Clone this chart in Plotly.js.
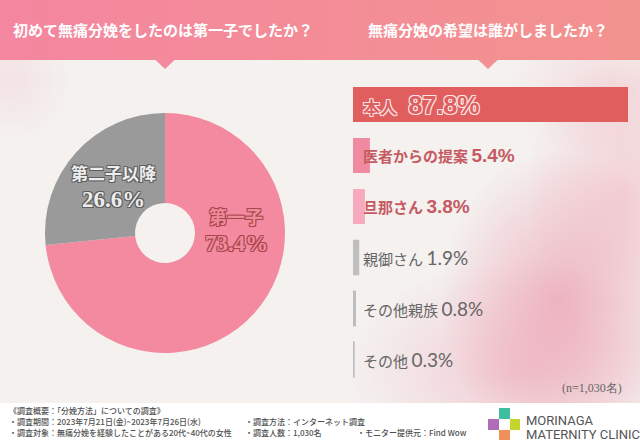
<!DOCTYPE html>
<html><head><meta charset="utf-8">
<script src="https://cdn.plot.ly/plotly-3.0.1.min.js"></script>
<style>
html,body{margin:0;padding:0;background:#fff;}
#wrap{position:relative;width:640px;height:443px;overflow:hidden;
background:
 radial-gradient(ellipse 120px 150px at 560px 300px, rgba(234,145,165,0.60), rgba(234,145,165,0) 100%),
 radial-gradient(ellipse 170px 110px at 520px 370px, rgba(238,165,182,0.50), rgba(238,165,182,0) 100%),
 radial-gradient(ellipse 100px 130px at 625px 190px, rgba(240,170,185,0.45), rgba(240,170,185,0) 100%),
 radial-gradient(ellipse 100px 70px at 610px 90px, rgba(242,185,195,0.40), rgba(242,185,195,0) 100%),
 radial-gradient(ellipse 60px 60px at 10px 80px, rgba(242,190,200,0.30), rgba(242,190,200,0) 100%),
 #F4F1EF;}
#hdr{position:absolute;left:0;top:0;width:640px;height:60px;background:linear-gradient(90deg,#F4869F,#F3938F);}
#ftr{position:absolute;left:0;top:403px;width:640px;height:40px;background:#fff;}
#chart{position:absolute;left:0;top:0;width:640px;height:443px;}
</style></head>
<body>
<div id="wrap"><div id="hdr"></div><div id="ftr"></div><div id="chart"></div></div>
<script>
// ---- data ----
const pieLabels = ['第一子', '第二子以降'];
const pieValues = [73.4, 26.6];
const barLabels = ['本人', '医者からの提案', '旦那さん', '親御さん', 'その他親族', 'その他'];
const barValues = [87.8, 5.4, 3.8, 1.9, 0.8, 0.3];
const titleLeft = '初めて無痛分娩をしたのは第一子でしたか？';
const titleRight = '無痛分娩の希望は誰がしましたか？';
const sampleNote = '(n=1,030名)';
const footerLines = [
  '《調査概要：「分娩方法」についての調査》',
  '・調査期間：2023年7月21日(金)~2023年7月26日(水)',
  '・調査対象：無痛分娩を経験したことがある20代~40代の女性'
];
const footerCol2 = ['・調査方法：インターネット調査', '・調査人数：1,030名'];
const footerCol3 = '・モニター提供元：Find Wow';
const logoLines = ['MORINAGA', 'MATERNITY CLINIC'];

// ---- style ----
const W = 640, H = 443;
const px = x => x / W, py = y => 1 - y / H;
const JP = '"Noto Sans CJK JP", "Noto Sans", sans-serif';
const SERIF = '"Liberation Serif", "DejaVu Serif", serif';
const pieColors = ['#F38AA0', '#9A9A9A'];
const barColors = ['#E05E5E', '#F08AA0', '#F7A9BD', '#BEBEBE', '#BEBEBE', '#BEBEBE'];
const barLineW = [0, 0, 0, 0.5, 1, 1.5];
const outline = c => `-1px -1px 0 ${c}, 1px -1px 0 ${c}, -1px 1px 0 ${c}, 1px 1px 0 ${c}`;

const traces = [
  {
    type: 'pie', labels: pieLabels, values: pieValues, sort: false,
    direction: 'clockwise', rotation: 0, hole: 0.25,
    marker: {colors: pieColors, line: {width: 0}},
    textinfo: 'none', hoverinfo: 'none', showlegend: false,
    domain: {x: [px(45), px(285)], y: [py(353), py(113)]}
  },
  {
    type: 'bar', orientation: 'h', x: barValues, y: barLabels,
    marker: {color: barColors, line: {color: barColors, width: barLineW}},
    xaxis: 'x', yaxis: 'y', hoverinfo: 'none', showlegend: false
  }
];

const annotations = [];
annotations.push({xref: 'paper', yref: 'paper', x: px(163), y: py(30), text: titleLeft, showarrow: false,
  xanchor: 'center', yanchor: 'middle', font: {family: JP, size: 15, color: '#fff', weight: 700}});
annotations.push({xref: 'paper', yref: 'paper', x: px(488), y: py(30), text: titleRight, showarrow: false,
  xanchor: 'center', yanchor: 'middle', font: {family: JP, size: 15, color: '#fff', weight: 700}});

// pie labels (label line + value line)
const pieLabelPos = [[236, 216, 243, 18], [113, 173, 199, 17]];
const pieTextStyle = [
  {color: '#EE8C9A', shadow: outline('#A8454F')},
  {color: '#EDEDED', shadow: outline('#5E5E5E')}
];
pieLabels.forEach((l, i) => {
  const p = pieLabelPos[i], s = pieTextStyle[i];
  annotations.push({xref: 'paper', yref: 'paper', x: px(p[0]), y: py(p[1]),
    xanchor: 'center', yanchor: 'middle', showarrow: false, text: l,
    font: {family: JP, size: p[3], color: s.color, weight: 700, shadow: s.shadow}});
  annotations.push({xref: 'paper', yref: 'paper', x: px(p[0]), y: py(p[2]),
    xanchor: 'center', yanchor: 'middle', showarrow: false, text: pieValues[i].toFixed(1) + '%',
    font: {family: SERIF, size: 23, color: s.color, weight: 700, shadow: s.shadow}});
});

// bar labels
barLabels.forEach((l, i) => {
  let text, font;
  const v = barValues[i].toFixed(1) + '%';
  if (i === 0) {
    text = `<span style="font-size:17px">${l}</span>   <span style="font-size:25px;font-family:'Liberation Sans',sans-serif">${v}</span>`;
    font = {family: JP, size: 17, color: '#DF5E5E', weight: 700, shadow: outline('#FBE3E3')};
  } else if (i < 3) {
    text = `<span style="font-size:15px">${l}</span> <span style="font-size:19px;font-family:'Liberation Sans',sans-serif">${v}</span>`;
    font = {family: JP, size: 15, color: '#C65A62', weight: 700};
  } else {
    text = `<span style="font-size:15px">${l}</span> <span style="font-size:19px;font-family:Lato,sans-serif">${v}</span>`;
    font = {family: JP, size: 15, color: '#666666', weight: 400};
  }
  annotations.push({xref: 'x', yref: 'y', x: 0, y: l, xanchor: 'left', yanchor: 'middle', xshift: 8,
    showarrow: false, text: text, font: font});
});

annotations.push({xref: 'paper', yref: 'paper', x: px(624), y: py(388), xanchor: 'right', yanchor: 'middle',
  showarrow: false, text: sampleNote, font: {family: SERIF, size: 12, color: '#666'}});

// footer
const fy = [410, 421, 432];
const FT = {family: JP, size: 8, color: '#505050', weight: 500};
footerLines.forEach((t, i) => annotations.push({xref: 'paper', yref: 'paper', x: px(7), y: py(fy[i]),
  xanchor: 'left', yanchor: 'middle', showarrow: false, text: t, font: FT}));
footerCol2.forEach((t, i) => annotations.push({xref: 'paper', yref: 'paper', x: px(243), y: py(fy[i + 1]),
  xanchor: 'left', yanchor: 'middle', showarrow: false, text: t, font: FT}));
annotations.push({xref: 'paper', yref: 'paper', x: px(355), y: py(fy[2]),
  xanchor: 'left', yanchor: 'middle', showarrow: false, text: footerCol3, font: FT});
logoLines.forEach((t, i) => annotations.push({xref: 'paper', yref: 'paper', x: px(524), y: py(420 + i * 14),
  xanchor: 'left', yanchor: 'middle', showarrow: false, text: t, font: {family: 'Roboto, sans-serif', size: 13, color: '#555'}}));

const rect = (x0, y0, x1, y1, c) => ({type: 'rect', xref: 'paper', yref: 'paper', x0: px(x0), x1: px(x1),
  y0: py(y1), y1: py(y0), fillcolor: c, line: {width: 0}, layer: 'above'});
const tri = (cx, c) => ({type: 'path', xref: 'paper', yref: 'paper',
  path: `M ${px(cx - 10)} ${py(59.5)} L ${px(cx + 10)} ${py(59.5)} L ${px(cx)} ${py(69)} Z`,
  fillcolor: c, line: {width: 0}});
const shapes = [
  tri(165, '#F48A9D'), tri(488, '#F39094'),
  rect(499, 408, 510, 419, '#3DBE9E'),
  rect(488, 419, 499, 430, '#AE6DB6'),
  rect(510, 419, 520, 430, '#C4D62E'),
  rect(499, 430, 510, 440, '#F0915A')
];

const layout = {
  width: W, height: H, margin: {l: 0, r: 0, t: 0, b: 0},
  paper_bgcolor: 'rgba(0,0,0,0)', plot_bgcolor: 'rgba(0,0,0,0)',
  showlegend: false, bargap: 0.314,
  xaxis: {domain: [px(353), px(628)], range: [0, 87.8], visible: false, fixedrange: true},
  yaxis: {domain: [py(385), py(79)], autorange: 'reversed', visible: false, type: 'category', fixedrange: true},
  annotations: annotations, shapes: shapes
};
Plotly.newPlot('chart', traces, layout, {displayModeBar: false, staticPlot: true});
</script>
</body></html>
